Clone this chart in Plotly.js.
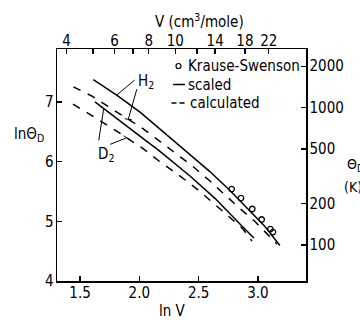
<!DOCTYPE html>
<html><head><meta charset="utf-8">
<script src="https://cdn.plot.ly/plotly-3.0.1.min.js"></script>
<style>html,body{margin:0;padding:0;background:#fff;}#chart{width:360px;height:321px;}</style>
</head><body><div id="chart"></div>
<script>
// ---- data (ln V, ln ThetaD) ----
const h2ScaledLnV   = [1.612, 1.809, 2.006, 2.174, 2.427, 2.595, 2.764, 2.933, 3.059, 3.185];
const h2ScaledLnT   = [7.377, 7.117, 6.832, 6.547, 6.128, 5.835, 5.517, 5.181, 4.913, 4.595];
const h2CalcLnV     = [1.444, 1.601, 1.736, 2.006, 2.174, 2.317, 2.452, 2.595, 2.730, 2.848, 2.975, 3.084, 3.160];
const h2CalcLnT     = [7.256, 7.100, 6.926, 6.589, 6.341, 6.128, 5.919, 5.676, 5.425, 5.215, 4.997, 4.779, 4.620];
const d2ScaledLnV   = [1.626, 1.837, 2.006, 2.174, 2.427, 2.638, 2.848, 2.966];
const d2ScaledLnT   = [7.005, 6.690, 6.438, 6.174, 5.760, 5.386, 4.955, 4.721];
const d2CalcLnV     = [1.441, 1.590, 1.770, 2.031, 2.174, 2.343, 2.486, 2.730, 2.874, 2.949];
const d2CalcLnT     = [6.966, 6.782, 6.564, 6.221, 5.999, 5.760, 5.542, 5.123, 4.871, 4.670];
const krauseLnV     = [2.778, 2.857, 2.952, 3.031, 3.105, 3.126];
const krauseLnT     = [5.542, 5.391, 5.207, 5.031, 4.871, 4.821];

// ---- ticks ----
const lnVTicks      = [1.5, 2.0, 2.5, 3.0];
const lnVTickText   = ["1.5", "2.0", "2.5", "3.0"];
const lnTTicks      = [4, 5, 6, 7];
const lnTTickText   = ["4", "5", "6", "7"];
const vTicks        = [4, 5, 6, 7, 8, 10, 12, 14, 18, 22];
const vTickText     = ["4", "", "6", "", "8", "10", "", "14", "18", "22"];
const thetaTicks    = [100, 200, 500, 1000, 2000];
const thetaTickText = ["100", "200", "500", "1000", "2000"];

const xRange = [1.306, 3.405];
const yRange = [4.0, 7.89];

const FONT = '"DejaVu Sans Condensed", "Liberation Sans Narrow", "Arial Narrow", sans-serif';
const FS = 15;
const BLACK = '#000';

function interp(xs, ys, x) {
  for (let i = 0; i < xs.length - 1; i++) {
    if (x >= xs[i] && x <= xs[i + 1]) {
      const t = (x - xs[i]) / (xs[i + 1] - xs[i]);
      return ys[i] + t * (ys[i + 1] - ys[i]);
    }
  }
  return ys[ys.length - 1];
}

const lineSolid = {color: BLACK, width: 1.5};
const lineDash  = {color: BLACK, width: 1.5, dash: '8px,8px'};

const traces = [
  {x: h2ScaledLnV, y: h2ScaledLnT, mode: 'lines', line: lineSolid, xaxis: 'x', yaxis: 'y', hoverinfo: 'skip', showlegend: false},
  {x: h2CalcLnV,   y: h2CalcLnT,   mode: 'lines', line: lineDash,  xaxis: 'x', yaxis: 'y', hoverinfo: 'skip', showlegend: false},
  {x: d2ScaledLnV, y: d2ScaledLnT, mode: 'lines', line: lineSolid, xaxis: 'x', yaxis: 'y', hoverinfo: 'skip', showlegend: false},
  {x: d2CalcLnV,   y: d2CalcLnT,   mode: 'lines', line: lineDash,  xaxis: 'x', yaxis: 'y', hoverinfo: 'skip', showlegend: false},
  {x: krauseLnV,   y: krauseLnT,   mode: 'markers', xaxis: 'x2', yaxis: 'y2', hoverinfo: 'skip', showlegend: false,
   marker: {symbol: 'circle-open', size: 5.5, color: BLACK, line: {width: 1.3, color: BLACK}}}
];

const axisCommon = {
  showline: true, linecolor: BLACK, linewidth: 1.5, showgrid: false, zeroline: false,
  ticks: 'inside', ticklen: 5, tickwidth: 1.3, tickcolor: BLACK,
  tickfont: {family: FONT, size: FS, color: BLACK}, fixedrange: true
};

// leader lines (anchored on the curves, offsets in pixels)
const h2Leader2X = 1.907, d2Leader1X = 1.70, d2Leader2X = 1.894;
function seg(xa, ya, dx0, dy0, dx1, dy1) {
  return {type: 'line', xref: 'x', yref: 'y', xsizemode: 'pixel', ysizemode: 'pixel',
          xanchor: xa, yanchor: ya, x0: dx0, y0: dy0, x1: dx1, y1: dy1, line: {color: BLACK, width: 1}};
}
const h2L2Y = interp(h2CalcLnV, h2CalcLnT, h2Leader2X);
const d2L1Y = interp(d2ScaledLnV, d2ScaledLnT, d2Leader1X);
const d2L2Y = interp(d2CalcLnV, d2CalcLnT, d2Leader2X);

const px = v => (v - 57) / 249;     // pixel -> paper x
const py = v => (281 - v) / 232;    // pixel -> paper y

const shapes = [
  seg(h2ScaledLnV[1], h2ScaledLnT[1], 0, 0, 18, 15),
  seg(h2Leader2X, h2L2Y, 0, 0, 8.5, 30),
  seg(h2Leader2X, h2L2Y, -3.5, 0.5, 3.5, -0.5),
  seg(d2Leader1X, d2L1Y, 0, 0, -5, -32),
  seg(d2Leader2X, d2L2Y, 0, 0, -16.5, -6.5),
  seg(d2Leader2X, d2L2Y, -3, 2, 3, -2),
  // legend samples
  {type: 'circle', xref: 'paper', yref: 'paper', xsizemode: 'pixel', ysizemode: 'pixel',
   xanchor: px(178.5), yanchor: py(66), x0: -2.5, x1: 2.5, y0: -2.5, y1: 2.5, line: {color: BLACK, width: 1.2}},
  {type: 'line', xref: 'paper', yref: 'paper', x0: px(173), x1: px(185), y0: py(84.5), y1: py(84.5), line: {color: BLACK, width: 1.5}},
  {type: 'line', xref: 'paper', yref: 'paper', x0: px(171.5), x1: px(176.5), y0: py(103), y1: py(103), line: {color: BLACK, width: 1.5}},
  {type: 'line', xref: 'paper', yref: 'paper', x0: px(179.5), x1: px(184.5), y0: py(103), y1: py(103), line: {color: BLACK, width: 1.5}}
];

const txt = (text, x, y, xanchor, size) => ({
  text: text, xref: 'paper', yref: 'paper', x: x, y: y, xanchor: xanchor || 'center', yanchor: 'middle',
  showarrow: false, font: {family: FONT, size: size || FS, color: BLACK}
});

const annotations = [
  txt('V (cm<sup>3</sup>/mole)', px(199), py(21)),
  txt('ln V', px(172.5), py(311)),
  txt('lnΘ<sub>D</sub>', px(29), py(134)),
  txt('Θ<sub>D</sub>', px(345), py(165), 'left', 14),
  txt('(K)', px(342), py(187), 'left', 14),
  txt('Krause-Swenson', px(185.5), py(66), 'left'),
  txt('scaled', px(186), py(84.5), 'left'),
  txt('calculated', px(187.5), py(103), 'left'),
  txt('H<sub>2</sub>', px(136), py(81), 'left'),
  txt('D<sub>2</sub>', px(96), py(154), 'left')
];

const layout = {
  width: 360, height: 321,
  margin: {l: 57, r: 54, t: 49, b: 40, pad: 0},
  paper_bgcolor: '#fff', plot_bgcolor: '#fff',
  showlegend: false,
  font: {family: FONT, size: FS, color: BLACK},
  xaxis: Object.assign({}, axisCommon, {range: xRange, tickvals: lnVTicks, ticktext: lnVTickText, ticklabelstandoff: -3}),
  yaxis: Object.assign({}, axisCommon, {range: yRange, tickvals: lnTTicks, ticktext: lnTTickText, ticklabelstandoff: -1}),
  xaxis2: Object.assign({}, axisCommon, {range: xRange, overlaying: 'x', side: 'top', anchor: 'y',
           tickvals: vTicks.map(v => Math.log(v)), ticktext: vTickText, ticklabelstandoff: -4}),
  yaxis2: Object.assign({}, axisCommon, {range: yRange, overlaying: 'y', side: 'right', anchor: 'x',
           tickvals: thetaTicks.map(v => Math.log(v)), ticktext: thetaTickText, ticklabelstandoff: -1}),
  shapes: shapes,
  annotations: annotations
};

Plotly.newPlot('chart', traces, layout, {displayModeBar: false, staticPlot: true});
</script>
</body></html>
